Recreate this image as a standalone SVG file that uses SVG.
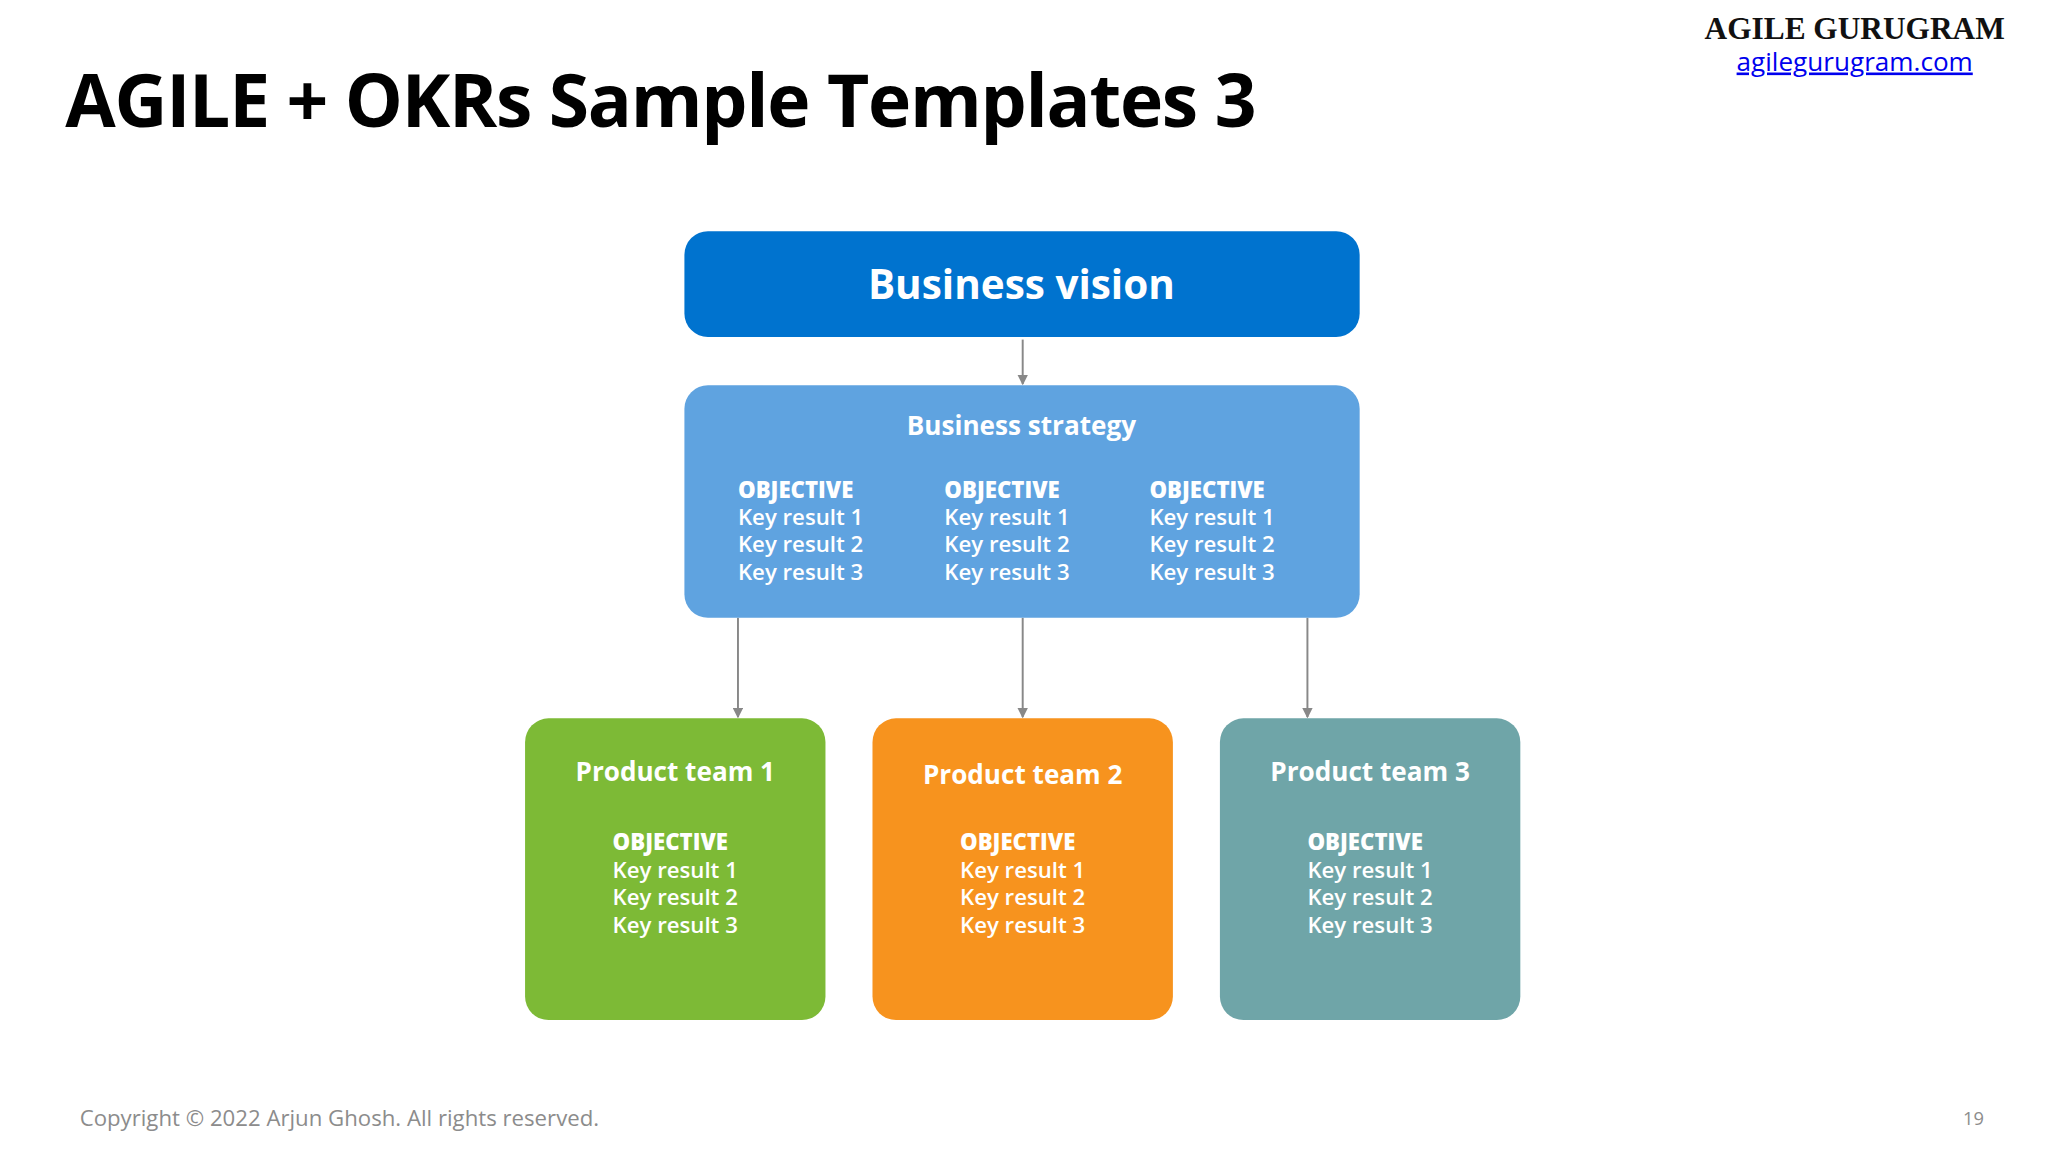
<svg xmlns="http://www.w3.org/2000/svg" width="2048" height="1152" viewBox="0 0 2048 1152">
<style>
.t{font-family:"Open Sans","Liberation Sans",sans-serif;fill:#fff;font-weight:bold}
.k{font-family:"Open Sans","Liberation Sans",sans-serif;fill:#fff;font-size:17px;font-weight:600}
.o{font-weight:800}
.c{stroke:#888;stroke-width:1.5;fill:none}
</style>
<defs><marker id="a" markerWidth="8" markerHeight="8" refX="7" refY="4" orient="auto" markerUnits="userSpaceOnUse"><path d="M0,0L8,4L0,8z" fill="#888"/></marker></defs>
<rect width="2048" height="1152" fill="#fff"/>
<g transform="scale(1.30612)">
<text x="50" y="97" font-family="Open Sans,Liberation Sans,sans-serif" font-weight="bold" font-size="56" textLength="912" fill="#000">AGILE + OKRs Sample Templates 3</text>
<text x="1420" y="30" text-anchor="middle" font-family="Liberation Serif,serif" font-weight="bold" font-size="24" fill="#111">AGILE GURUGRAM</text>
<text x="1420" y="54" text-anchor="middle" font-family="Open Sans,Liberation Sans,sans-serif" font-size="20" fill="#0000EE" text-decoration="underline">agilegurugram.com</text>
<g id="connectors">
<line class="c" x1="783" y1="260" x2="783" y2="294" marker-end="url(#a)"/>
<line class="c" x1="565" y1="473" x2="565" y2="549" marker-end="url(#a)"/>
<line class="c" x1="783" y1="473" x2="783" y2="549" marker-end="url(#a)"/>
<line class="c" x1="1001" y1="473" x2="1001" y2="549" marker-end="url(#a)"/>
</g>
<g id="vision"><rect x="524" y="177" width="517" height="81" rx="18" fill="#0073CF"/>
<text class="t" x="782" y="229" font-size="31" text-anchor="middle">Business vision</text></g>
<g id="strategy"><rect x="524" y="295" width="517" height="178" rx="18" fill="#5FA3E0"/>
<text class="t" x="782" y="333" font-size="20" text-anchor="middle">Business strategy</text>
<text class="k o" x="565" y="381">OBJECTIVE</text><text class="k" x="565" y="402">Key result 1</text><text class="k" x="565" y="423">Key result 2</text><text class="k" x="565" y="444">Key result 3</text>
<text class="k o" x="723" y="381">OBJECTIVE</text><text class="k" x="723" y="402">Key result 1</text><text class="k" x="723" y="423">Key result 2</text><text class="k" x="723" y="444">Key result 3</text>
<text class="k o" x="880" y="381">OBJECTIVE</text><text class="k" x="880" y="402">Key result 1</text><text class="k" x="880" y="423">Key result 2</text><text class="k" x="880" y="444">Key result 3</text>
</g>
<g id="team1"><rect x="402" y="550" width="230" height="231" rx="18" fill="#7DBA36"/>
<text class="t" x="517" y="598" font-size="20" text-anchor="middle">Product team 1</text>
<text class="k o" x="469" y="651">OBJECTIVE</text><text class="k" x="469" y="672">Key result 1</text><text class="k" x="469" y="693">Key result 2</text><text class="k" x="469" y="714">Key result 3</text></g>
<g id="team2"><rect x="668" y="550" width="230" height="231" rx="18" fill="#F7931E"/>
<text class="t" x="783" y="600" font-size="20" text-anchor="middle">Product team 2</text>
<text class="k o" x="735" y="651">OBJECTIVE</text><text class="k" x="735" y="672">Key result 1</text><text class="k" x="735" y="693">Key result 2</text><text class="k" x="735" y="714">Key result 3</text></g>
<g id="team3"><rect x="934" y="550" width="230" height="231" rx="18" fill="#6FA5A8"/>
<text class="t" x="1049" y="598" font-size="20" text-anchor="middle">Product team 3</text>
<text class="k o" x="1001" y="651">OBJECTIVE</text><text class="k" x="1001" y="672">Key result 1</text><text class="k" x="1001" y="693">Key result 2</text><text class="k" x="1001" y="714">Key result 3</text></g>
<text x="61" y="862" font-family="Open Sans,Liberation Sans,sans-serif" font-size="17" fill="#8c8c8c">Copyright © 2022 Arjun Ghosh. All rights reserved.</text>
<text x="1519" y="861" text-anchor="end" font-family="Open Sans,Liberation Sans,sans-serif" font-size="14" fill="#8c8c8c">19</text>
</g>
</svg>
